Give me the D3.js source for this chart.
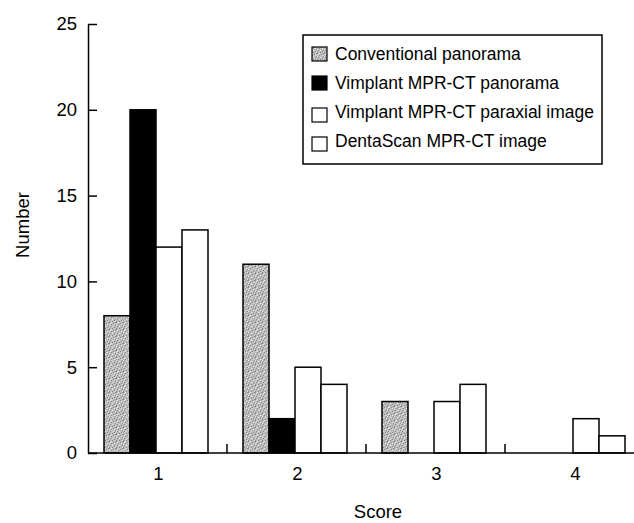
<!DOCTYPE html>
<html>
<head>
<meta charset="utf-8">
<script src="https://cdn.jsdelivr.net/npm/d3@7"></script>
<style>
body { margin: 0; background: #fff; }
text { font-family: "Liberation Sans", Arial, sans-serif; fill: #000; }
</style>
</head>
<body>
<div id="chart"></div>
<script>
// data
var scores = ["1", "2", "3", "4"];
var seriesNames = ["Conventional panorama", "Vimplant MPR-CT panorama", "Vimplant MPR-CT paraxial image", "DentaScan MPR-CT image"];
var conventional = [8, 11, 3, 0];
var vimplantPan = [20, 2, 0, 0];
var vimplantPara = [12, 5, 3, 2];
var dentaScan = [13, 4, 4, 1];
var yTicks = [0, 5, 10, 15, 20, 25];

var seriesValues = [conventional, vimplantPan, vimplantPara, dentaScan];
var fills = ["url(#stipple)", "#000", "#fff", "#fff"];

/* margins, width & height */
var W = 634, H = 523;
var margin = {top: 24, left: 88, bottom: 70};
var plotBottom = H - margin.bottom; // y of zero line

var svg = d3.select("#chart")
  .append("svg")
    .attr("width", W)
    .attr("height", H);

// stippled grey fill for the conventional bars
var defs = svg.append("defs");
var pat = defs.append("pattern")
    .attr("id", "stipple")
    .attr("width", 7).attr("height", 7)
    .attr("patternUnits", "userSpaceOnUse");
pat.append("rect").attr("width", 7).attr("height", 7).attr("fill", "#bdbdbd");
// a few darker and lighter specks, scattered by hand
[[0, 0], [4, 1], [2, 2], [6, 3], [1, 4], [5, 5], [3, 6], [0, 6], [6, 0]].forEach(function(p) {
  pat.append("rect").attr("x", p[0]).attr("y", p[1]).attr("width", 1).attr("height", 1).attr("fill", "#8a8a8a");
});
[[2, 0], [5, 2], [0, 3], [3, 4], [6, 6], [1, 1]].forEach(function(p) {
  pat.append("rect").attr("x", p[0]).attr("y", p[1]).attr("width", 1).attr("height", 1).attr("fill", "#e6e6e6");
});

/* scales */
var x = d3.scaleBand().domain(scores).range([margin.left, margin.left + 4 * 139]).paddingInner(0).paddingOuter(0);
var xInner = d3.scaleBand().domain(d3.range(4)).range([16, 120]);
var y = d3.scaleLinear().domain([0, 25]).range([plotBottom, margin.top]);

// bars
var groups = svg.selectAll(".grp")
  .data(scores)
  .enter().append("g")
    .attr("class", "grp")
    .attr("transform", function(d) { return "translate(" + x(d) + ",0)"; });

groups.selectAll("rect")
  .data(function(d, i) { return seriesValues.map(function(s, j) { return {s: j, v: s[i]}; }); })
  .enter().append("rect")
    .attr("x", function(d) { return xInner(d.s); })
    .attr("width", xInner.bandwidth())
    .attr("y", function(d) { return y(d.v); })
    .attr("height", function(d) { return plotBottom - y(d.v); })
    .attr("fill", function(d) { return fills[d.s]; })
    .attr("stroke", "#000")
    .attr("stroke-width", 1.5);

/* y axis, ticks pointing inwards */
var yAxis = d3.axisLeft(y).tickValues(yTicks).tickSizeInner(-9).tickSizeOuter(0).tickPadding(11);
var gy = svg.append("g")
    .attr("transform", "translate(" + margin.left + ",0)")
    .call(yAxis);
gy.select(".domain").attr("stroke", "#000").attr("stroke-width", 1.5);
gy.selectAll(".tick line").attr("stroke", "#000").attr("stroke-width", 1.5);
gy.selectAll(".tick text").style("font-size", "18.5px").attr("fill", "#000");

/* x axis: labels at group centres, small ticks between groups */
svg.append("line")
    .attr("x1", margin.left).attr("x2", W)
    .attr("y1", plotBottom).attr("y2", plotBottom)
    .attr("stroke", "#000").attr("stroke-width", 1.5);

svg.selectAll(".sep")
  .data(scores.slice(1))
  .enter().append("line")
    .attr("x1", function(d) { return x(d); }).attr("x2", function(d) { return x(d); })
    .attr("y1", plotBottom).attr("y2", plotBottom - 9)
    .attr("stroke", "#000").attr("stroke-width", 1.5);

svg.selectAll(".xlab")
  .data(scores)
  .enter().append("text")
    .attr("x", function(d) { return x(d) + x.bandwidth() / 2 + 1; })
    .attr("y", plotBottom + 27)
    .attr("text-anchor", "middle")
    .style("font-size", "18.5px")
    .text(function(d) { return d; });

// axis titles
svg.append("text")
    .attr("x", 378).attr("y", 518)
    .attr("text-anchor", "middle")
    .style("font-size", "18.5px")
    .text("Score");

svg.append("text")
    .attr("transform", "translate(29,225) rotate(-90)")
    .attr("text-anchor", "middle")
    .style("font-size", "18.5px")
    .text("Number");

/* legend */
var legend = svg.append("g").attr("transform", "translate(303,35)");
legend.append("rect")
    .attr("width", 299).attr("height", 129)
    .attr("fill", "#fff").attr("stroke", "#000").attr("stroke-width", 1.5);

var items = legend.selectAll(".item")
  .data(seriesNames)
  .enter().append("g")
    .attr("transform", function(d, i) { return "translate(0," + (25 + i * 29) + ")"; });

items.append("rect")
    .attr("x", 9).attr("y", function(d, i) { return i < 2 ? -13 : -10; })
    .attr("width", 15).attr("height", 14)
    .attr("fill", function(d, i) { return fills[i]; })
    .attr("stroke", "#000").attr("stroke-width", 1.2);

items.append("text")
    .attr("x", 32).attr("y", 0)
    .style("font-size", "17.5px")
    .text(function(d) { return d; });
</script>
</body>
</html>
